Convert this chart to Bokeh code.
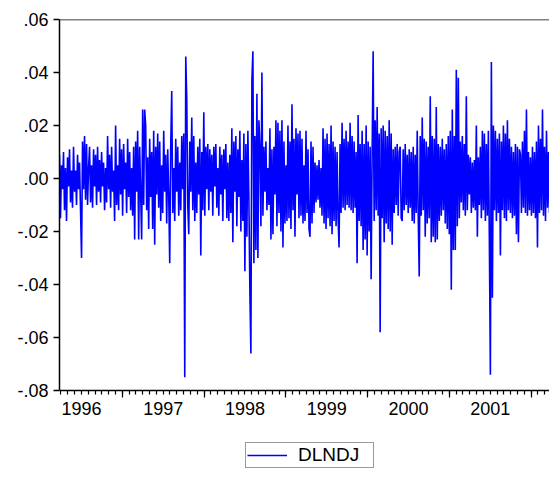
import numpy as np
from bokeh.plotting import figure
from bokeh.models import (Range1d, LinearAxis, FixedTicker, Span, Legend,
                          LegendItem, CustomJSTickFormatter)
from bokeh.embed import file_html
from bokeh.resources import INLINE

series_name = "DLNDJ"
first_obs = 1996.232   # first observation (fraction of year)
last_obs = 2002.225    # last observation

dlndj = [
    .009, -.015, .005, -.004, .010, -.012, .004, -.016, .008, -.003,
    .011, -.009, .003, -.011, .012, -.005, .003, -.010, .009, -.004,
    .006, -.012, -.030, .014, -.004, .016, -.008, .013, -.010, .004,
    .012, -.009, .005, -.011, .011, -.003, .009, -.010, .012, -.005,
    .007, -.009, .010, -.003, .006, -.012, .004, -.009, .016, -.004,
    .009, -.011, .012, -.005, .003, -.016, .020, -.010, .005, -.012,
    .015, -.006, .011, -.014, .013, -.004, .006, -.013, .015, -.007,
    .010, -.012, .004, -.014, .012, -.023, .014, -.005, .018, -.023,
    .012, -.006, -.023, .026, -.010, .026, .020, -.012, .008, -.019,
    .015, -.007, .010, -.019, .018, -.025, .012, -.006, .017, -.011,
    .014, -.016, .005, -.013, .018, -.005, .009, -.017, .011, -.006,
    -.032, .012, .033, -.013, .004, -.016, .015, -.005, .012, -.014,
    .006, -.012, .016, -.004, .017, -.075, .046, .030, -.010, -.021,
    .014, -.005, .023, -.012, .016, -.016, .006, -.013, .012, -.006,
    .015, -.029, .010, -.012, .025, -.014, .012, -.004, .013, -.012,
    .011, -.005, .009, -.014, .012, -.003, .013, -.011, .004, -.014,
    .012, -.006, .009, -.016, .011, -.004, .013, -.015, .006, -.016,
    .009, -.013, .019, -.024, .014, -.005, .016, -.018, .011, -.007,
    .018, -.020, .007, -.016, .017, -.035, .013, -.022, .018, -.008,
    -.043, -.066, .037, .048, -.032, .016, -.027, .032, -.030, .022,
    .012, -.018, .040, -.014, .012, -.005, .014, -.012, .004, -.010,
    .019, -.023, .011, -.021, .012, -.006, .022, -.018, .021, -.013,
    .018, -.020, .022, -.026, .014, -.017, .005, -.016, .020, -.015,
    .014, -.019, .028, -.012, .015, -.022, .019, -.006, .017, -.015,
    .018, -.014, .015, -.017, .005, -.016, .018, -.013, .011, -.019,
    -.022, .014, -.017, .012, -.013, .006, -.009, .005, -.008, .007,
    -.011, .004, -.014, .019, -.017, .015, -.019, .017, -.015, .013,
    -.018, .020, -.021, .014, -.016, .012, -.018, .010, -.015, -.026,
    .013, -.013, .021, -.011, .015, -.012, .018, -.010, .014, -.011,
    .021, -.012, .016, -.013, .014, -.011, .010, -.032, .024, -.016,
    .013, -.018, .018, -.027, .013, -.023, .020, -.029, .014, -.020,
    .012, -.038, .009, .048, -.016, .022, -.012, .027, -.014, .017,
    -.058, .019, -.015, .020, -.024, .018, -.017, .016, -.019, .022,
    -.020, .017, -.025, .011, -.013, .012, -.010, .013, -.014, .010,
    .012, -.015, -.016, .011, -.012, .013, -.010, .009, -.013, .011,
    -.011, .010, -.016, .012, -.017, .009, -.013, .018, -.014, -.037,
    .016, -.014, .023, -.012, .015, -.022, .014, -.017, .012, -.015,
    .031, -.024, .016, -.022, .015, -.024, .027, -.023, .013, -.016,
    .012, -.014, .015, -.012, .011, -.017, .013, -.019, .016, -.021,
    .018, -.042, .026, -.027, .016, -.027, .041, -.018, .038, -.015,
    .014, -.009, .016, -.012, .013, -.014, .031, -.012, .009, -.006,
    .008, -.013, .006, -.011, .007, -.012, .020, -.022, .008, -.010,
    .012, -.015, .018, -.012, .017, -.016, .013, -.014, .018, -.024,
    -.074, .044, -.045, .020, -.012, .018, -.016, .015, -.013, .017,
    -.029, .014, -.012, .020, -.015, .017, -.016, .022, -.012, .015,
    -.013, .012, -.015, .010, -.014, .013, -.021, .012, -.024, .011,
    .009, -.013, .014, -.011, .018, -.013, .026, -.014, .010, -.012,
    .008, -.014, .012, -.013, .010, -.015, .014, -.026, .020, -.013,
    .015, -.012, .026, -.014, .012, -.016, .018, -.011, .010, -.013,
]

years = [1996, 1997, 1998, 1999, 2000, 2001, 2002]
year_labels = ["1996", "1997", "1998", "1999", "2000", "2001"]
y_ticks = [-0.08, -0.06, -0.04, -0.02, 0.0, 0.02, 0.04, 0.06]
y_tick_labels = ["-.08", "-.06", "-.04", "-.02", ".00", ".02", ".04", ".06"]

x = np.linspace(first_obs, last_obs, len(dlndj))

FONT = "Liberation Sans"
axis_min, axis_max = y_ticks[0], y_ticks[-1]
view_min = -0.1128   # extra room below the axis for the labels and legend

p = figure(width=549, height=477, output_backend="svg", toolbar_location=None,
           x_range=Range1d(first_obs, last_obs), y_range=Range1d(view_min, axis_max),
           x_axis_type=None, y_axis_type=None,
           min_border_left=59, min_border_right=0, min_border_top=19, min_border_bottom=0)
p.outline_line_color = None
p.background_fill_color = "white"
p.border_fill_color = "white"

lookup_js = """
let best = 0, d = Infinity;
for (let i = 0; i < tpos.length; i++) {
  const e = Math.abs(tpos[i] - tick);
  if (e < d) { d = e; best = i; }
}
return ttext[best];
"""

# Y axis
yaxis = LinearAxis(ticker=FixedTicker(ticks=y_ticks, minor_ticks=[]), bounds=(axis_min, axis_max),
                   formatter=CustomJSTickFormatter(args=dict(tpos=y_ticks, ttext=y_tick_labels), code=lookup_js))
yaxis.axis_line_color = "black"
yaxis.axis_line_width = 1.5
yaxis.major_tick_line_color = "black"
yaxis.major_tick_line_width = 1.5
yaxis.major_tick_in = 0
yaxis.major_tick_out = 6
yaxis.minor_tick_line_color = None
yaxis.major_label_standoff = 5
yaxis.major_label_text_font = FONT
yaxis.major_label_text_font_size = "18px"
yaxis.major_label_text_color = "black"
p.add_layout(yaxis, "left")

# X axis: year boundary ticks + monthly minor ticks, placed at the bottom of the value scale
month_ticks = [y + m / 12 for y in years for m in range(12)]
xaxis_ticks = LinearAxis(ticker=FixedTicker(ticks=years, minor_ticks=month_ticks),
                         formatter=CustomJSTickFormatter(code="return ' '"),
                         fixed_location=axis_min)
xaxis_ticks.axis_line_color = "black"
xaxis_ticks.axis_line_width = 1.5
xaxis_ticks.major_tick_line_color = "black"
xaxis_ticks.major_tick_line_width = 1.2
xaxis_ticks.major_tick_in = 0
xaxis_ticks.major_tick_out = 7
xaxis_ticks.minor_tick_line_color = "black"
xaxis_ticks.minor_tick_line_width = 1.2
xaxis_ticks.minor_tick_in = 0
xaxis_ticks.minor_tick_out = 4
xaxis_ticks.major_label_text_font_size = "1px"
xaxis_ticks.major_label_text_color = None
xaxis_ticks.major_label_standoff = 0
p.add_layout(xaxis_ticks, "below")

# X axis labels centred on each year
mid_years = [y + 0.5 for y in years[:-1]]
xaxis_labels = LinearAxis(ticker=FixedTicker(ticks=mid_years, minor_ticks=[]),
                          formatter=CustomJSTickFormatter(args=dict(tpos=mid_years, ttext=year_labels), code=lookup_js),
                          fixed_location=axis_min)
xaxis_labels.axis_line_color = None
xaxis_labels.major_tick_line_color = None
xaxis_labels.minor_tick_line_color = None
xaxis_labels.major_tick_in = 0
xaxis_labels.major_tick_out = 0
xaxis_labels.major_label_standoff = 11
xaxis_labels.major_label_text_font = FONT
xaxis_labels.major_label_text_font_size = "18px"
xaxis_labels.major_label_text_color = "black"
p.add_layout(xaxis_labels, "below")

# top frame line
p.add_layout(Span(location=axis_max, dimension="width", line_color="black", line_width=1.5))

r = p.line(x, dlndj, line_color="#0000FF", line_width=1.6)

legend = Legend(items=[LegendItem(label=series_name, renderers=[r])],
                location=(186, 9), orientation="horizontal")
legend.border_line_color = "#333333"
legend.border_line_width = 1
legend.padding = 1
legend.margin = 0
legend.glyph_width = 40
legend.glyph_height = 16
legend.label_height = 16
legend.label_width = 74
legend.label_standoff = 11
legend.label_text_font = FONT
legend.label_text_font_size = "19px"
legend.label_text_color = "black"
legend.background_fill_color = "white"
p.add_layout(legend, "center")

open("out.html", "w").write(file_html(p, INLINE))
